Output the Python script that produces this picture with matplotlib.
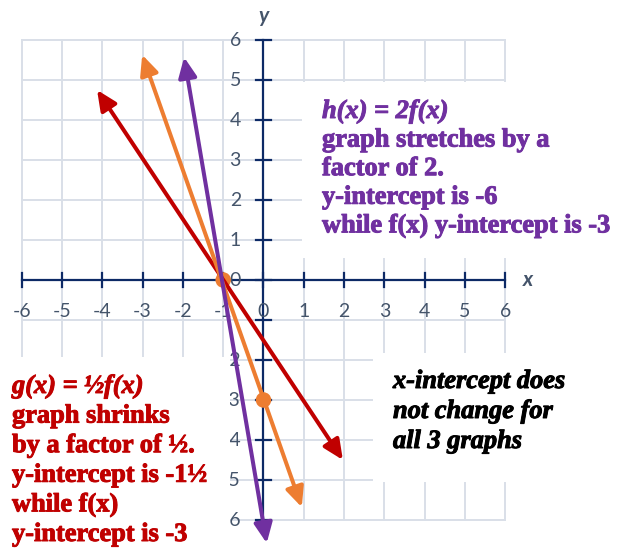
import matplotlib
matplotlib.use("Agg")
import matplotlib.pyplot as plt
import matplotlib.patheffects as pe
from matplotlib.patches import FancyArrowPatch, Rectangle, ArrowStyle

# ---------------- data ----------------
x_ticks = [-6, -5, -4, -3, -2, -1, 0, 1, 2, 3, 4, 5, 6]
x_tick_labels = ['-6', '-5', '-4', '-3', '-2', '-1', '0', '1', '2', '3', '4', '5', '6']
y_ticks = [-6, -5, -4, -3, -2, -1, 0, 1, 2, 3, 4, 5, 6]
y_tick_labels = ['-6', '-5', '-4', '-3', '-2', '', '0', '1', '2', '3', '4', '5', '6']

# endpoints of the three arrows
g_x = [-4.13, 1.97]
g_y = [4.75, -4.50]
f_x = [-3.01, 0.95]
f_y = [5.63, -5.68]
h_x = [-1.97, 0.08]
h_y = [5.57, -6.58]

# highlighted intercept points of f(x)
pts_x = [-1, 0]
pts_y = [0, -3]

g_text = ["g(x) = \u00bdf(x)", "graph shrinks", "by a factor of \u00bd.",
          "y-intercept is -1\u00bd", "while f(x)", "y-intercept is -3"]
h_text = ["h(x) = 2f(x)", "graph stretches by a", "factor of 2.",
          "y-intercept is -6", "while f(x) y-intercept is -3"]
note_text = ["x-intercept does", "not change for", "all 3 graphs"]

# ---------------- style ----------------
W, H = 626, 550
OX, OY = 263.5, 280.0      # pixel of origin
UX, UY = 40.3, 40.0        # pixels per unit

GRID = '#d9dfe8'
AXIS = '#0d2a66'
LABEL = '#44546a'
RED = '#c00000'
ORANGE = '#ed7d31'
PURPLE = '#7030a0'

fig = plt.figure(figsize=(W / 100, H / 100), dpi=100)
ax = fig.add_axes([0, 0, 1, 1])
ax.set_xlim(-OX / UX, (W - OX) / UX)
ax.set_ylim(-(H - OY) / UY, OY / UY)
ax.axis('off')


def px2x(px):
    return (px - OX) / UX


def py2y(py):
    return (OY - py) / UY


# grid
for v in x_ticks:
    ax.plot([v, v], [y_ticks[0], y_ticks[-1]], color=GRID, lw=1.4, zorder=1)
for v in y_ticks:
    ax.plot([x_ticks[0], x_ticks[-1]], [v, v], color=GRID, lw=1.4, zorder=1)

# axes
ax.plot([x_ticks[0], x_ticks[-1]], [0, 0], color=AXIS, lw=1.6, zorder=2)
ax.plot([0, 0], [y_ticks[0], y_ticks[-1]], color=AXIS, lw=1.6, zorder=2)
tl = 0.18
for v in x_ticks:
    ax.plot([v, v], [-tl, tl], color=AXIS, lw=1.6, zorder=2)
for v in y_ticks:
    ax.plot([-tl, tl], [v, v], color=AXIS, lw=1.6, zorder=2)

# tick labels
for v, s in zip(x_ticks, x_tick_labels):
    ax.text(v, -0.78, s, ha='center', va='center', fontsize=14,
            family='Lato', color=LABEL, zorder=2.5)
for v, s in zip(y_ticks, y_tick_labels):
    if s:
        ax.text(px2x(241), v - 0.02, s, ha='right', va='center', fontsize=14,
                family='Lato', color=LABEL, zorder=2.5)

# axis names
ax.text(px2x(528), 0, 'x', ha='center', va='center', fontsize=15,
        family='Lato', style='italic', weight='bold', color=LABEL)
ax.text(0, py2y(16), 'y', ha='center', va='center', fontsize=15,
        family='Lato', style='italic', weight='bold', color=LABEL)

# points
ax.scatter(pts_x, pts_y, s=125, color=ORANGE, zorder=3, edgecolors='none')

# arrows
style = ArrowStyle('<|-|>', head_length=12, head_width=5.5)
for xs, ys, c in [(g_x, g_y, RED), (f_x, f_y, ORANGE), (h_x, h_y, PURPLE)]:
    arr = FancyArrowPatch((xs[0], ys[0]), (xs[1], ys[1]), arrowstyle=style,
                          mutation_scale=1, color=c, lw=2.9,
                          shrinkA=0, shrinkB=0, zorder=4)
    ax.add_patch(arr)

# white text boxes
for (x0, y0, x1, y1) in [(302, 82, 640, 258), (-10, 357, 230, 560), (373, 353, 640, 482)]:
    ax.add_patch(Rectangle((px2x(x0), py2y(y1)), px2x(x1) - px2x(x0),
                           py2y(y0) - py2y(y1), facecolor='white',
                           edgecolor='none', zorder=5))


def put_lines(lines, x_px, base_px, step, color, italic_all=False):
    for i, s in enumerate(lines):
        st = 'italic' if (i == 0 or italic_all) else 'normal'
        fig.text(x_px / W, 1 - (base_px + i * step) / H, s, ha='left',
                 va='baseline', fontsize=19, family='Liberation Serif',
                 weight='bold', style=st, color=color, zorder=6,
                 path_effects=[pe.withStroke(linewidth=0.7, foreground=color)])


put_lines(h_text, 322, 118, 28.6, PURPLE)
put_lines(g_text, 12, 393, 29.6, RED)
put_lines(note_text, 393, 388, 30, 'black', italic_all=True)

fig.savefig('out.png', dpi=100)
